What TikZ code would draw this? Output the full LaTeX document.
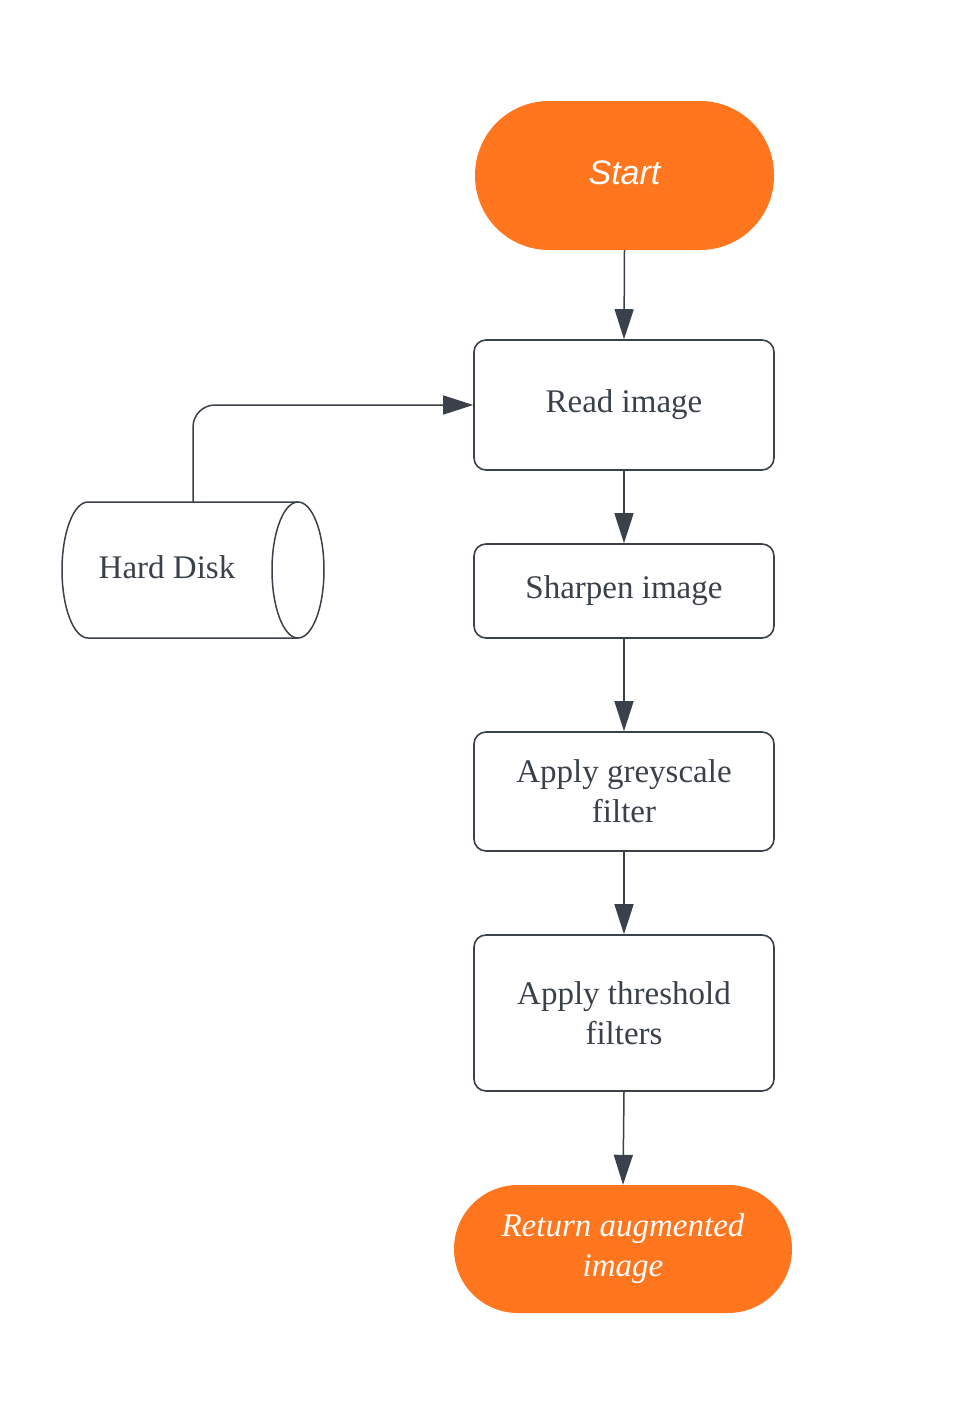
\documentclass[tikz,border=0pt]{standalone}
\usepackage{fontspec}
\setmainfont{Liberation Serif}
\newfontfamily\startfont{Liberation Sans}
\usetikzlibrary{arrows.meta}
\definecolor{ink}{HTML}{3A414A}
\definecolor{orng}{HTML}{FF761F}
\tikzset{
  stepbox/.style={draw=ink, line width=1.6pt, rounded corners=12pt, minimum width=300pt, text=ink, font=\fontsize{33}{40}\selectfont, align=center, inner sep=0pt},
  term/.style={fill=orng, text=white, align=center, inner sep=0pt},
  conn/.style={draw=ink, line width=1.5pt, -{Triangle[length=30pt,width=19pt]}},
}
\begin{document}
\begin{tikzpicture}[x=1pt,y=-1pt]
\useasboundingbox (0,0) rectangle (953,1419);
\node[term, minimum width=299pt, minimum height=149pt, rounded corners=74pt, text depth=6pt, font=\startfont\itshape\fontsize{34}{40}\selectfont] (start) at (624.5,175.5) {Start};
\node[stepbox, minimum height=130pt] (read) at (624,405) {Read image};
\node[stepbox, minimum height=94pt] (sharp) at (624,591) {Sharpen image};
\node[stepbox, minimum height=119pt] (grey) at (624,791.5) {Apply greyscale\\filter};
\node[stepbox, minimum height=156pt] (thresh) at (624,1013) {Apply threshold\\filters};
\node[term, minimum width=338pt, minimum height=128pt, rounded corners=64pt, font=\itshape\fontsize{33}{40}\selectfont] (ret) at (623,1249) {Return augmented\\image};
% hard disk cylinder
\draw[draw=ink, line width=1.5pt] (298,502) -- (88,502) arc[start angle=270, end angle=90, x radius=26, y radius=68] -- (298,638);
\draw[draw=ink, line width=1.5pt] (298,570) ellipse[x radius=26, y radius=68];
\node[text=ink, font=\fontsize{33}{40}\selectfont] (disk) at (167,567) {Hard Disk};
\coordinate (disktop) at (193,502);
% connectors
\draw[conn] (start.south) -- (read.north);
\draw[conn] (read.south) -- (sharp.north);
\draw[conn] (sharp.south) -- (grey.north);
\draw[conn] (grey.south) -- (thresh.north);
\draw[conn] (thresh.south) -- (ret.north);
\draw[conn, rounded corners=22pt] (disktop) |- (read.west);
\end{tikzpicture}
\end{document}
